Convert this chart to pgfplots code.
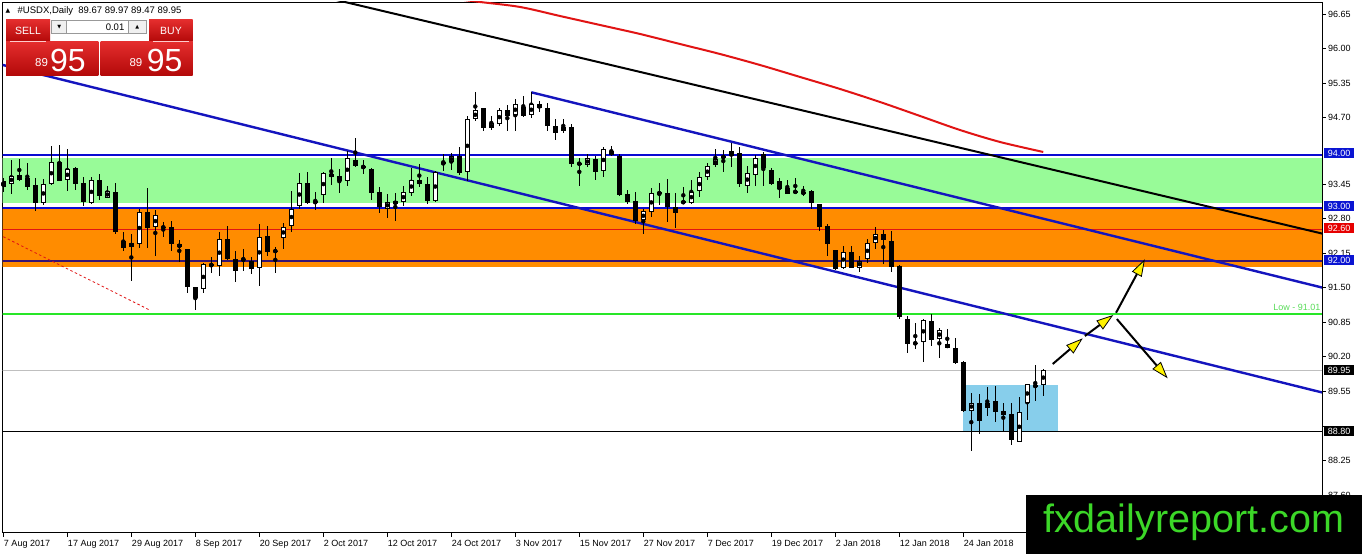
\documentclass[border=0pt]{standalone}
\usepackage{pgfplots}
\pgfplotsset{compat=1.18}
\usepackage{pgfplotstable}
\usepackage{fontspec}
\setmainfont{Liberation Sans}
\newfontfamily\djv{DejaVu Sans}
\usetikzlibrary{arrows.meta}

\definecolor{pgreen}{RGB}{152,251,152}
\definecolor{dorange}{RGB}{255,140,0}
\definecolor{mtblue}{RGB}{10,10,210}
\definecolor{chblue}{RGB}{20,20,190}
\definecolor{indig}{RGB}{55,20,115}
\definecolor{mtred}{RGB}{225,20,20}
\definecolor{limeg}{RGB}{40,230,40}
\definecolor{skyb}{RGB}{135,206,235}
\definecolor{lowgreen}{RGB}{90,220,90}
\definecolor{wmgreen}{RGB}{60,215,40}
\definecolor{btnhi}{RGB}{228,45,45}
\definecolor{btnlo}{RGB}{178,8,8}
\definecolor{boxblue}{RGB}{10,20,210}
\definecolor{boxred}{RGB}{230,0,0}

\pgfplotstableread{
k o h l c
0 93.51 93.57 93.31 93.40
1 93.45 93.90 93.26 93.61
2 93.63 93.92 93.51 93.53
3 93.57 93.84 93.34 93.40
4 93.43 93.56 92.94 93.10
5 93.10 93.54 93.06 93.45
6 93.45 94.17 93.43 93.86
7 93.86 94.19 93.50 93.51
8 93.52 94.11 93.32 93.73
9 93.76 93.78 93.34 93.45
10 93.47 93.59 93.04 93.12
11 93.09 93.59 93.07 93.52
12 93.52 93.65 93.15 93.23
13 93.19 93.41 93.18 93.32
14 93.30 93.47 92.51 92.54
15 92.38 92.55 92.19 92.24
16 92.26 92.51 91.63 92.35
17 92.33 92.98 92.25 92.92
18 92.92 93.38 92.25 92.63
19 92.64 92.96 92.10 92.87
20 92.65 92.73 92.46 92.62
21 92.64 92.76 92.20 92.32
22 92.32 92.40 91.99 92.26
23 92.23 92.23 91.41 91.52
24 91.52 91.52 91.09 91.31
25 91.47 91.96 91.41 91.94
26 91.94 92.08 91.78 91.91
27 91.91 92.54 91.72 92.41
28 92.41 92.67 92.02 92.04
29 92.05 92.19 91.60 91.82
30 92.04 92.23 91.82 92.03
31 92.01 92.07 91.76 91.85
32 91.87 92.70 91.54 92.46
33 92.47 92.67 92.10 92.18
34 92.19 92.27 91.78 92.19
35 92.43 92.72 92.22 92.65
36 92.67 93.32 92.55 92.99
37 93.04 93.65 92.99 93.47
38 93.47 93.68 93.08 93.10
39 93.13 93.31 92.96 93.09
40 93.25 93.68 93.10 93.65
41 93.65 93.95 93.43 93.59
42 93.61 93.73 93.28 93.50
43 93.50 94.08 93.41 93.94
44 93.90 94.31 93.78 93.80
45 93.79 93.90 93.65 93.75
46 93.73 93.75 93.16 93.29
47 93.30 93.39 92.90 93.01
48 92.98 93.26 92.82 93.12
49 93.13 93.28 92.76 93.07
50 93.11 93.42 93.04 93.30
51 93.28 93.76 93.23 93.53
52 93.53 93.83 93.39 93.45
53 93.45 93.58 93.08 93.14
54 93.14 93.70 93.11 93.67
55 93.82 94.02 93.70 93.86
56 93.86 94.03 93.72 93.98
57 93.97 94.15 93.63 93.65
58 93.67 94.74 93.51 94.67
59 94.67 95.18 94.64 94.84
60 94.88 94.89 94.45 94.51
61 94.50 94.73 94.47 94.59
62 94.58 94.88 94.54 94.84
63 94.84 94.93 94.45 94.74
64 94.75 95.05 94.44 94.95
65 94.90 95.11 94.72 94.74
66 94.75 95.19 94.70 94.95
67 94.95 95.01 94.81 94.89
68 94.89 94.97 94.45 94.55
69 94.55 94.67 94.28 94.41
70 94.45 94.67 94.42 94.53
71 94.52 94.58 93.78 93.83
72 93.84 93.94 93.42 93.83
73 93.81 94.01 93.78 93.94
74 93.92 93.98 93.53 93.68
75 93.70 94.15 93.59 94.11
76 94.08 94.17 93.97 94.00
77 93.98 94.01 93.23 93.24
78 93.26 93.34 93.07 93.11
79 93.13 93.30 92.69 92.76
80 92.77 92.98 92.52 92.94
81 92.93 93.37 92.84 93.28
82 93.30 93.47 93.06 93.26
83 93.28 93.54 92.74 93.02
84 93.01 93.28 92.63 92.91
85 93.13 93.39 93.09 93.09
86 93.10 93.53 93.08 93.31
87 93.32 93.68 93.21 93.58
88 93.58 93.84 93.53 93.79
89 93.80 94.12 93.77 93.92
90 93.94 94.09 93.68 93.98
91 93.97 94.23 93.78 94.08
92 94.03 94.15 93.40 93.45
93 93.42 93.79 93.29 93.65
94 93.63 94.00 93.42 93.95
95 94.01 94.06 93.41 93.75
96 93.72 93.75 93.43 93.45
97 93.50 93.57 93.18 93.36
98 93.37 93.53 93.26 93.26
99 93.28 93.57 93.26 93.33
100 93.29 93.42 93.23 93.28
101 93.32 93.34 92.98 93.10
102 93.08 93.08 92.57 92.65
103 92.66 92.69 92.10 92.32
104 92.21 92.21 91.83 91.85
105 91.88 92.29 91.85 92.18
106 92.18 92.29 91.88 91.88
107 91.88 92.10 91.80 92.01
108 92.05 92.41 91.96 92.34
109 92.35 92.65 92.23 92.52
110 92.51 92.59 91.94 92.39
111 92.38 92.57 91.80 91.90
112 91.91 91.93 90.91 90.94
113 90.91 90.97 90.28 90.45
114 90.46 90.83 90.35 90.45
115 90.47 90.92 90.11 90.89
116 90.87 91.00 90.41 90.52
117 90.53 90.74 90.17 90.71
118 90.45 90.72 90.36 90.36
119 90.37 90.56 90.06 90.08
120 90.11 90.12 89.17 89.19
121 89.19 89.51 88.43 89.34
122 89.34 89.51 88.74 89.00
123 89.24 89.63 89.09 89.34
124 89.37 89.65 88.98 89.16
125 89.18 89.33 88.78 89.11
126 89.12 89.33 88.54 88.64
127 88.60 89.44 88.59 89.17
128 89.34 89.68 89.01 89.68
129 89.66 90.05 89.36 89.64
130 89.67 89.97 89.47 89.95
}\candles

\begin{document}
\begin{tikzpicture}[x=1pt,y=1pt]
\path[use as bounding box] (0,0) rectangle (1362,554);
\fill[white] (0,0) rectangle (1362,554);
\begin{axis}[
  at={(2.5pt,21.3pt)}, anchor=south west,
  scale only axis, width=1319.5pt, height=530.7pt,
  xmin=-0.1, xmax=164.84, ymin=86.891, ymax=96.876,
  clip mode=individual,
  axis line style={black, line width=0.8pt},
  xtick={0,8,...,120},
  xticklabels={7 Aug 2017,17 Aug 2017,29 Aug 2017,8 Sep 2017,20 Sep 2017,2 Oct 2017,12 Oct 2017,24 Oct 2017,3 Nov 2017,15 Nov 2017,27 Nov 2017,7 Dec 2017,19 Dec 2017,2 Jan 2018,12 Jan 2018,24 Jan 2018},
  ytick={96.65,96.00,95.35,94.70,93.45,92.80,92.15,91.50,90.85,90.20,89.55,88.25,87.60},
  yticklabels={96.65,96.00,95.35,94.70,93.45,92.80,92.15,91.50,90.85,90.20,89.55,88.25,87.60},
  extra y ticks={88.90}, extra y tick labels={},
  xtick pos=left, ytick pos=right, yticklabel pos=right,
  tick align=outside, major tick length=4pt,
  tick style={black, line width=0.8pt},
  ticklabel style={font=\fontsize{9}{10}\selectfont, inner sep=0pt},
  xticklabel style={anchor=north west, xshift=0.5pt, yshift=-3pt},
  yticklabel style={anchor=west, xshift=2pt},
]
% zones
\addplot[draw=none, fill=pgreen] coordinates {(-1,93.09) (-1,93.95) (166,93.95) (166,93.09)} -- cycle;
\addplot[draw=none, fill=dorange] coordinates {(-1,91.89) (-1,92.98) (166,92.98) (166,91.89)} -- cycle;
\addplot[draw=none, fill=skyb] coordinates {(119.96,88.80) (119.96,89.67) (131.84,89.67) (131.84,88.80)} -- cycle;
% horizontal lines
\addplot[mtblue, line width=2pt] coordinates {(-1,94.00) (166,94.00)};
\addplot[mtblue, line width=2pt] coordinates {(-1,93.00) (166,93.00)};
\addplot[mtred, line width=0.8pt] coordinates {(-1,92.60) (166,92.60)};
\addplot[indig, line width=2pt] coordinates {(-1,92.00) (166,92.00)};
\addplot[limeg, line width=2.2pt] coordinates {(-1,91.01) (166,91.01)};
\addplot[black!25, line width=0.8pt] coordinates {(-1,89.95) (166,89.95)};
\addplot[black, line width=0.8pt] coordinates {(-1,88.80) (166,88.80)};
% trend lines
\addplot[mtred, line width=0.8pt, dash pattern=on 2.5pt off 2.5pt] coordinates {(0,92.46) (18.3,91.08)};
\addplot[mtred, line width=2pt, smooth] coordinates {(55,96.962) (59.6,96.876) (64.6,96.782) (69.6,96.612) (74.6,96.443) (79.6,96.274) (84.6,96.085) (89.6,95.897) (94.6,95.690) (99.6,95.465) (104.6,95.239) (109.6,94.994) (114.6,94.731) (119.6,94.467) (124.6,94.242) (130,94.054)};
\addplot[black, line width=2pt] coordinates {(30,97.329) (165,92.514)};
\addplot[chblue, line width=2.4pt] coordinates {(-1,95.726) (165,89.524)};
\addplot[chblue, line width=2.4pt] coordinates {(66.0,95.177) (165,91.498)};
% candles: wicks
\addplot[only marks, mark=none, error bars/.cd, y dir=both, y explicit, error mark=none,
  error bar style={draw=black, line width=1pt}]
  table[x=k, y expr={(\thisrow{h}+\thisrow{l})/2}, y error expr={(\thisrow{h}-\thisrow{l})/2}] {\candles};
% bodies
\addplot[only marks, mark=none, error bars/.cd, y dir=both, y explicit, error mark=none,
  error bar style={draw=black, line width=5pt}]
  table[x=k, y expr={(\thisrow{o}+\thisrow{c})/2}, y error expr={max(abs(\thisrow{o}-\thisrow{c})/2,0.011)}] {\candles};
\addplot[only marks, mark=none, error bars/.cd, y dir=both, y explicit, error mark=none,
  error bar style={draw=white, line width=3pt}]
  table[x=k, y expr={(\thisrow{o}+\thisrow{c})/2}, y error expr={(\thisrow{c}>\thisrow{o})*max(abs(\thisrow{o}-\thisrow{c})/2-0.0188,0)}] {\candles};
% arrows
\addplot[black, line width=2pt, -{Triangle[length=17pt, width=11pt, fill=yellow, line width=0.8pt]}] coordinates {(131.18,90.065) (134.93,90.548)};
\addplot[black, line width=2pt, -{Triangle[length=17pt, width=11pt, fill=yellow, line width=0.8pt]}] coordinates {(135.2,90.592) (138.75,90.987)};
\addplot[black, line width=2pt, -{Triangle[length=17pt, width=11pt, fill=yellow, line width=0.8pt]}] coordinates {(139.1,91.030) (142.7,92.035)};
\addplot[black, line width=2pt, -{Triangle[length=17pt, width=11pt, fill=yellow, line width=0.8pt]}] coordinates {(139.2,90.911) (145.55,89.796)};
\end{axis}

% price boxes on right axis
\tikzset{pbox/.style={anchor=west, inner sep=0pt, minimum width=30pt, minimum height=10pt, text=white, font=\fontsize{9}{10}\selectfont}}
\node[pbox, fill=boxblue] at (1324,401) {94.00};
\node[pbox, fill=boxblue] at (1324,347.5) {93.00};
\node[pbox, fill=boxred] at (1324,325.7) {92.60};
\node[pbox, fill=boxblue] at (1324,294) {92.00};
\node[pbox, fill=black] at (1324,184) {89.95};
\node[pbox, fill=black] at (1324,123) {88.80};
\node[anchor=base east, inner sep=0pt, text=lowgreen, font=\fontsize{9}{10}\selectfont] at (1320.5,243) {Low - 91.01};

% title
\node[anchor=west, inner sep=0pt, font=\djv\fontsize{6}{7}\selectfont] at (5.5,543) {▲};
\node[anchor=west, inner sep=0pt, font=\fontsize{9.5}{10}\selectfont] at (17.5,543) {\#USDX,Daily~~89.67 89.97 89.47 89.95};

% trading panel
\shade[top color=btnhi, bottom color=btnlo] (6,534) rectangle (50,512.3);
\shade[top color=btnhi, bottom color=btnlo] (149,534) rectangle (192.7,512.3);
\fill[white] (66.7,533.3) rectangle (128,520.7);
\fill[black!6] (51.7,533.3) rectangle (66.7,520.7);
\fill[black!6] (128,533.3) rectangle (146.7,520.7);
\draw[black!40, line width=0.6pt] (51.7,533.3) rectangle (146.7,520.7);
\draw[black!40, line width=0.6pt] (66.7,533.3) -- (66.7,520.7) (128,533.3) -- (128,520.7);
\node[font=\djv\fontsize{5}{6}\selectfont, inner sep=0pt] at (59.2,527) {▼};
\node[font=\djv\fontsize{5}{6}\selectfont, inner sep=0pt] at (137.3,527) {▲};
\node[anchor=east, inner sep=0pt, font=\fontsize{9.5}{10}\selectfont] at (124.5,527) {0.01};
\node[text=white, inner sep=0pt, font=\fontsize{10.5}{11}\selectfont] at (28,523.3) {SELL};
\node[text=white, inner sep=0pt, font=\fontsize{10.5}{11}\selectfont] at (171,523.3) {BUY};
\shade[top color=btnhi, bottom color=btnlo] (6,512.3) rectangle (98.3,478);
\shade[top color=btnhi, bottom color=btnlo] (100.7,512.3) rectangle (192.7,478);
\draw[white!80!red, line width=0.5pt] (10,512.3) -- (46,512.3) (153,512.3) -- (189,512.3);
\node[anchor=base west, inner sep=0pt, text=white, font=\fontsize{11.5}{12}\selectfont] at (35,487.3) {89};
\node[anchor=base west, inner sep=0pt, text=white, font=\fontsize{32}{33}\selectfont] at (50,482.3) {95};
\node[anchor=base west, inner sep=0pt, text=white, font=\fontsize{11.5}{12}\selectfont] at (129.3,487.3) {89};
\node[anchor=base west, inner sep=0pt, text=white, font=\fontsize{32}{33}\selectfont] at (146.7,482.3) {95};

% watermark
\fill[black] (1026,0) rectangle (1362,59);
\node[anchor=base west, inner sep=0pt, text=wmgreen, font=\fontsize{39.5}{40}\selectfont] at (1043,21) {fxdailyreport.com};
\end{tikzpicture}
\end{document}
